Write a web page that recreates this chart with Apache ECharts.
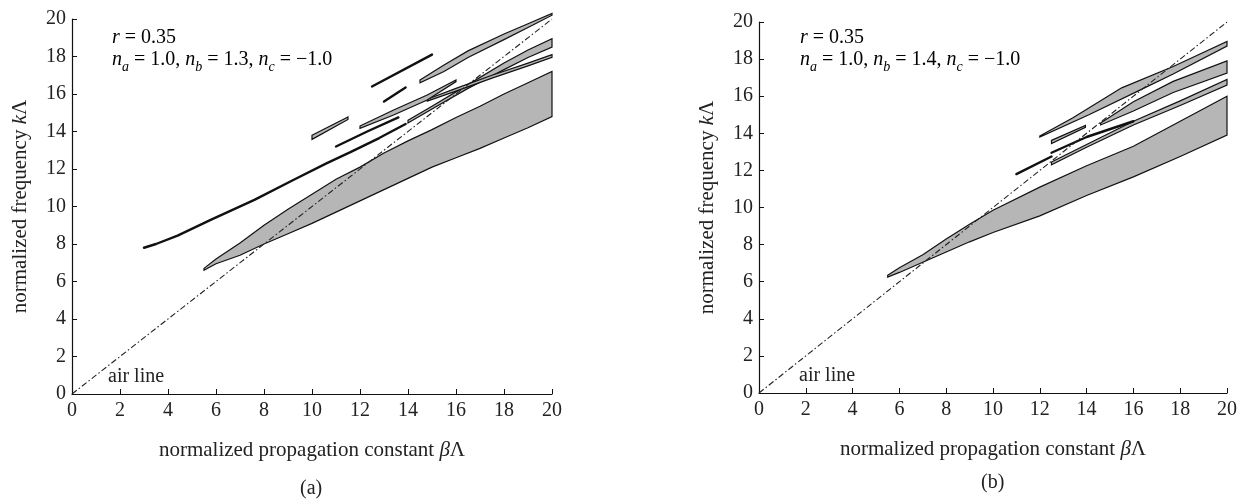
<!DOCTYPE html>
<html>
<head>
<meta charset="utf-8">
<script src="https://cdn.jsdelivr.net/npm/echarts@6/dist/echarts.min.js"></script>
<style>
  html, body { margin: 0; padding: 0; background: #fff; }
  #main { width: 1247px; height: 500px; }
</style>
</head>
<body>
<div id="main"></div>
<script>
// shared axis ticks and the air line k = beta
var ticks = [0, 2, 4, 6, 8, 10, 12, 14, 16, 18, 20];
var airLine = [[0, 0], [20, 20]];

// ---- panel (a): nb = 1.3 ----
var aBigUpper = [[5.5, 6.7], [6, 7.2], [7, 8.05], [8, 9.0], [9, 9.85], [10, 10.65], [11, 11.45], [12, 12.1], [13, 12.85], [14, 13.5], [15, 14.1], [16, 14.75], [17, 15.35], [18, 16.0], [19, 16.6], [20, 17.2]];
var aBigLower = [[5.5, 6.6], [6, 6.95], [7, 7.4], [8, 8.0], [9, 8.55], [10, 9.1], [11, 9.7], [12, 10.3], [13, 10.9], [14, 11.5], [15, 12.1], [16, 12.6], [17, 13.1], [18, 13.65], [19, 14.2], [20, 14.8]];
var aTopUpper = [[14.5, 16.75], [15.5, 17.55], [16.5, 18.3], [18, 19.2], [19, 19.75], [20, 20.3]];
var aTopLower = [[14.5, 16.6], [15.5, 17.2], [16.5, 17.95], [18, 18.9], [19, 19.55], [20, 20.2]];
var aMidUpper = [[14.0, 14.6], [15, 15.35], [16.5, 16.5], [18, 17.65], [19, 18.35], [20, 18.95]];
var aMidLower = [[14.0, 14.45], [15, 15.2], [16.5, 16.3], [18, 17.3], [19, 17.95], [20, 18.5]];
var aLowUpper = [[14.8, 15.72], [16, 16.3], [17.5, 17.0], [19, 17.65], [20, 18.1]];
var aLowLower = [[14.8, 15.62], [16, 16.15], [17.5, 16.85], [19, 17.5], [20, 17.95]];
var aLensUpper = [[12.0, 14.29], [13.4, 15.15], [14.8, 15.95], [16.0, 16.75]];
var aLensLower = [[12.0, 14.17], [13.4, 14.88], [14.8, 15.68], [16.0, 16.66]];
var aSmallUpper = [[10.0, 13.8], [11.5, 14.78]];
var aSmallLower = [[10.0, 13.58], [11.5, 14.64]];
var aLongLine = [[3.0, 7.8], [3.5, 8.0], [4.4, 8.45], [5.8, 9.3], [7.6, 10.35], [9.2, 11.4], [10.6, 12.3], [11.6, 12.9], [12.8, 13.65], [13.9, 14.4]];
var aDashes = [
  [[12.5, 16.4], [15.0, 18.1]],
  [[13.0, 15.6], [13.9, 16.35]],
  [[11.0, 13.2], [12.3, 14.0], [13.6, 14.75]]
];

// ---- panel (b): nb = 1.4 ----
var bBigUpper = [[5.5, 6.35], [6, 6.75], [7, 7.45], [8, 8.3], [9, 9.1], [10, 9.85], [12, 11.1], [14, 12.25], [16, 13.3], [18, 14.65], [20, 16.0]];
var bBigLower = [[5.5, 6.25], [6, 6.5], [7, 7.05], [8, 7.6], [9, 8.15], [10, 8.65], [12, 9.55], [14, 10.65], [16, 11.65], [18, 12.75], [20, 13.9]];
var bTopUpper = [[12.0, 13.85], [13.4, 14.82], [15.5, 16.45], [17.7, 17.6], [20, 18.95]];
var bTopLower = [[12.0, 13.8], [14.1, 15.0], [16.3, 16.34], [17.7, 17.2], [20, 18.7]];
var bMidUpper = [[14.6, 14.55], [16, 15.7], [17.7, 16.8], [20, 17.9]];
var bMidLower = [[14.6, 14.45], [16, 15.2], [17.7, 16.2], [20, 17.25]];
var bLowUpper = [[12.5, 12.45], [14, 13.4], [16, 14.65], [18, 15.75], [20, 16.9]];
var bLowLower = [[12.5, 12.3], [14, 13.25], [16, 14.45], [18, 15.5], [20, 16.6]];
var bSmallUpper = [[12.5, 13.62], [13.95, 14.42]];
var bSmallLower = [[12.5, 13.45], [13.95, 14.32]];
var bDashes = [
  [[11.0, 11.8], [12.5, 12.75]],
  [[12.5, 12.95], [14.0, 13.8], [16.0, 14.65]]
];

var SERIF = 'Liberation Serif';

function band(upper, lower) {
  return upper.concat(lower.slice().reverse());
}

var aBands = [
  band(aBigUpper, aBigLower),
  band(aTopUpper, aTopLower),
  band(aMidUpper, aMidLower),
  band(aLowUpper, aLowLower),
  band(aLensUpper, aLensLower),
  band(aSmallUpper, aSmallLower)
];
var bBands = [
  band(bBigUpper, bBigLower),
  band(bTopUpper, bTopLower),
  band(bMidUpper, bMidLower),
  band(bLowUpper, bLowLower),
  band(bSmallUpper, bSmallLower)
];

function bandSeries(idx, polys) {
  return {
    type: 'custom',
    xAxisIndex: idx,
    yAxisIndex: idx,
    silent: true,
    z: 3,
    data: polys.map(function (p) { return p[0]; }),
    renderItem: function (params, api) {
      var pts = polys[params.dataIndex].map(function (p) { return api.coord(p); });
      return {
        type: 'polygon',
        shape: { points: pts },
        style: { fill: '#b6b6b6', stroke: '#111', lineWidth: 1.2 }
      };
    }
  };
}

function lineSeries(idx, data, width) {
  return {
    type: 'line',
    xAxisIndex: idx,
    yAxisIndex: idx,
    data: data,
    showSymbol: false,
    silent: true,
    z: 4,
    lineStyle: { color: '#111', width: width, cap: 'round' }
  };
}

function airSeries(idx) {
  return {
    type: 'line',
    xAxisIndex: idx,
    yAxisIndex: idx,
    data: airLine,
    showSymbol: false,
    silent: true,
    z: 5,
    lineStyle: { color: '#222', width: 1.1, type: [6, 2.5, 1.5, 2.5] }
  };
}

var nameRich = {
  t: { fontFamily: SERIF, fontSize: 21, color: '#222' },
  i: { fontFamily: SERIF, fontSize: 21, color: '#222', fontStyle: 'italic' }
};

function xAxis(idx) {
  return {
    type: 'value',
    gridIndex: idx,
    min: 0, max: 20, interval: 2,
    axisLine: { show: true, onZero: false, lineStyle: { color: '#111', width: 1.2 } },
    axisTick: { show: true, inside: true, length: 5, customValues: ticks, lineStyle: { color: '#111' } },
    axisLabel: { customValues: ticks, fontFamily: SERIF, fontSize: 20, color: '#222', margin: 7 },
    splitLine: { show: false },
    name: '{t|normalized propagation constant }{i|β}{t|Λ}',
    nameLocation: 'middle',
    nameGap: 46,
    nameTextStyle: { rich: nameRich }
  };
}

function yAxis(idx) {
  return {
    type: 'value',
    gridIndex: idx,
    min: 0, max: 20, interval: 2,
    axisLine: { show: true, onZero: false, lineStyle: { color: '#111', width: 1.2 } },
    axisTick: { show: true, inside: true, length: 5, customValues: ticks, lineStyle: { color: '#111' } },
    axisLabel: { customValues: ticks, fontFamily: SERIF, fontSize: 20, color: '#222', margin: 6 },
    splitLine: { show: false },
    name: '{t|normalized frequency }{i|k}{t|Λ}',
    nameLocation: 'middle',
    nameGap: 41,
    nameTextStyle: { rich: nameRich }
  };
}

var annRich = {
  t: { fontFamily: SERIF, fontSize: 20, color: '#222', lineHeight: 21, verticalAlign: 'top' },
  i: { fontFamily: SERIF, fontSize: 20, color: '#222', fontStyle: 'italic', lineHeight: 21, verticalAlign: 'top' },
  s: { fontFamily: SERIF, fontSize: 14, color: '#222', fontStyle: 'italic', lineHeight: 14, verticalAlign: 'top', padding: [10, 0, 0, 0] }
};

function annotation(x, nb) {
  return [
    { type: 'text', left: x, top: 28, style: { text: '{i|r}{t| = 0.35}', rich: annRich } },
    { type: 'text', left: x, top: 50, style: {
      text: '{i|n}{s|a}{t| = 1.0, }{i|n}{s|b}{t| = ' + nb + ', }{i|n}{s|c}{t| = −1.0}', rich: annRich } }
  ];
}

var chart = echarts.init(document.getElementById('main'));
var option = {
  backgroundColor: '#fff',
  animation: false,
  grid: [
    { left: 72, top: 19, width: 480, height: 375 },
    { left: 759, top: 22, width: 468, height: 371 }
  ],
  xAxis: [xAxis(0), xAxis(1)],
  yAxis: [yAxis(0), yAxis(1)],
  graphic: [].concat(
    annotation(112, '1.3'),
    annotation(800, '1.4'),
    [
      { type: 'text', left: 108, top: 367, style: { text: 'air line', fontFamily: SERIF, fontSize: 20, fill: '#222' } },
      { type: 'text', left: 799, top: 366, style: { text: 'air line', fontFamily: SERIF, fontSize: 20, fill: '#222' } },
      { type: 'text', left: 300, top: 479, style: { text: '(a)', fontFamily: SERIF, fontSize: 20, fill: '#222' } },
      { type: 'text', left: 981, top: 473, style: { text: '(b)', fontFamily: SERIF, fontSize: 20, fill: '#222' } }
    ]
  ),
  series: [
    bandSeries(0, aBands),
    lineSeries(0, aLongLine, 2.4)
  ].concat(
    aDashes.map(function (d) { return lineSeries(0, d, 2.4); }),
    [airSeries(0), bandSeries(1, bBands)],
    bDashes.map(function (d) { return lineSeries(1, d, 2.4); }),
    [airSeries(1)]
  )
};
chart.setOption(option);
</script>
</body>
</html>
